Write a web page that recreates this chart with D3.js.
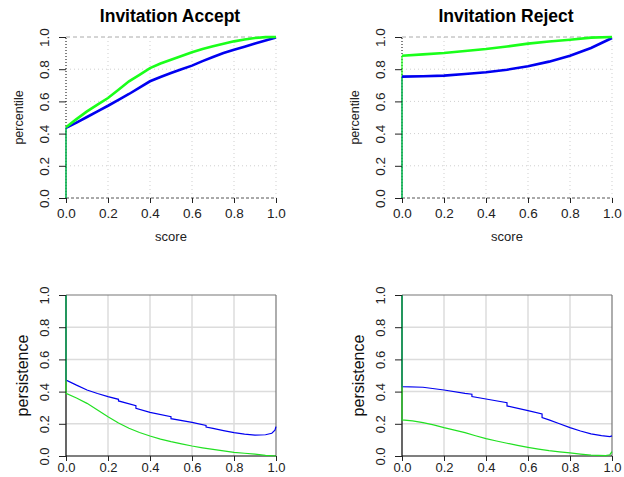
<!DOCTYPE html>
<html>
<head>
<meta charset="utf-8">
<script src="https://cdn.jsdelivr.net/npm/d3@7"></script>
<style>
  body { margin: 0; background: #fff; }
  svg { display: block; font-family: "Liberation Sans", Arial, Helvetica, sans-serif; }
</style>
</head>
<body>
<div id="chart"></div>
<script>
// tick values shared by every panel
var tickValues = [0, 0.2, 0.4, 0.6, 0.8, 1.0];
var titles = ["Invitation Accept", "Invitation Reject"];

// percentile curves (top row) : [score, percentile]
var acceptGreen = [[0,0.44],[0.05,0.49],[0.1,0.538],[0.15,0.58],[0.2,0.621],[0.25,0.672],[0.3,0.725],[0.35,0.765],[0.4,0.807],[0.45,0.835],[0.5,0.859],[0.55,0.882],[0.6,0.905],[0.65,0.925],[0.7,0.942],[0.75,0.958],[0.8,0.973],[0.85,0.985],[0.9,0.994],[0.95,0.999],[1.0,1.0]];
var acceptBlue = [[0,0.435],[0.05,0.468],[0.1,0.503],[0.15,0.538],[0.2,0.573],[0.25,0.61],[0.3,0.646],[0.35,0.686],[0.4,0.725],[0.45,0.752],[0.5,0.776],[0.55,0.8],[0.6,0.822],[0.65,0.85],[0.7,0.876],[0.75,0.9],[0.8,0.921],[0.85,0.94],[0.9,0.959],[0.95,0.978],[1.0,0.997]];
var rejectGreen = [[0,0.884],[0.1,0.892],[0.2,0.901],[0.3,0.913],[0.4,0.925],[0.5,0.941],[0.6,0.959],[0.7,0.972],[0.8,0.983],[0.9,0.996],[1.0,1.0]];
var rejectBlue = [[0,0.754],[0.1,0.756],[0.2,0.76],[0.3,0.77],[0.4,0.781],[0.5,0.797],[0.6,0.818],[0.7,0.847],[0.8,0.884],[0.9,0.932],[0.95,0.963],[1.0,0.994]];

// persistence curves (bottom row) : [score, persistence]
var accPersGreen = [[0,1.0],[0,0.389],[0.05,0.36],[0.1,0.327],[0.15,0.285],[0.2,0.244],[0.25,0.205],[0.3,0.172],[0.35,0.146],[0.4,0.124],[0.45,0.105],[0.5,0.089],[0.55,0.075],[0.6,0.062],[0.65,0.051],[0.7,0.041],[0.75,0.032],[0.8,0.023],[0.85,0.017],[0.9,0.012],[0.95,0.004],[1.0,0.0]];
var accPersBlue = [[0,1.0],[0,0.472],[0.05,0.44],[0.1,0.41],[0.15,0.388],[0.2,0.369],[0.25,0.352],[0.25,0.342],[0.333,0.312],[0.333,0.296],[0.4,0.271],[0.5,0.244],[0.5,0.232],[0.6,0.209],[0.667,0.19],[0.667,0.18],[0.7,0.172],[0.75,0.158],[0.8,0.145],[0.85,0.136],[0.9,0.13],[0.95,0.132],[0.98,0.141],[0.995,0.16],[1.0,0.182]];
var rejPersGreen = [[0,1.0],[0,0.224],[0.05,0.218],[0.1,0.207],[0.15,0.193],[0.2,0.176],[0.25,0.161],[0.3,0.145],[0.35,0.126],[0.4,0.108],[0.45,0.093],[0.5,0.079],[0.55,0.066],[0.6,0.054],[0.65,0.043],[0.7,0.033],[0.75,0.026],[0.8,0.019],[0.85,0.012],[0.9,0.006],[0.97,0.002],[0.99,0.008],[1.0,0.027]];
var rejPersBlue = [[0,1.0],[0,0.431],[0.1,0.427],[0.2,0.41],[0.3,0.389],[0.333,0.384],[0.333,0.369],[0.4,0.354],[0.5,0.331],[0.5,0.311],[0.6,0.282],[0.667,0.261],[0.667,0.238],[0.7,0.224],[0.75,0.2],[0.8,0.176],[0.85,0.155],[0.9,0.137],[0.95,0.126],[0.99,0.12],[1.0,0.125]];

var W = 624, H = 477;
var svg = d3.select("#chart").append("svg")
    .attr("width", W)
    .attr("height", H);

var GREEN = "#1aff1a", BLUE = "#0000f0";

var panels = [
  {col: 0, row: 0, title: titles[0], green: acceptGreen, blue: acceptBlue},
  {col: 1, row: 0, title: titles[1], green: rejectGreen, blue: rejectBlue},
  {col: 0, row: 1, green: accPersGreen, blue: accPersBlue},
  {col: 1, row: 1, green: rejPersGreen, blue: rejPersBlue}
];

panels.forEach(function(p) {
  var left = p.col == 0 ? 66 : 402;
  var x = d3.scaleLinear().domain([0, 1]).range([left, left + 210]);
  var y = p.row == 0
      ? d3.scaleLinear().domain([0, 1]).range([198, 37])
      : d3.scaleLinear().domain([0, 1]).range([456, 295]);
  var g = svg.append("g");
  var x0 = x(0), x1 = x(1), y0 = y(0), y1 = y(1);

  if (p.row == 0) {
    // dotted grid
    tickValues.slice(1).forEach(function(t) {
      g.append("line").attr("x1", x(t)).attr("x2", x(t)).attr("y1", y0).attr("y2", y1)
        .attr("stroke", "#cfcfcf").attr("stroke-dasharray", "1,3");
      if (t < 1) g.append("line").attr("x1", x0).attr("x2", x1).attr("y1", y(t)).attr("y2", y(t))
        .attr("stroke", "#cfcfcf").attr("stroke-dasharray", "1,3");
    });
    g.append("line").attr("x1", x0).attr("x2", x1).attr("y1", y1).attr("y2", y1)
      .attr("stroke", "#aaa").attr("stroke-dasharray", "4,3");
    g.append("line").attr("x1", x0).attr("x2", x1).attr("y1", y0).attr("y2", y0)
      .attr("stroke", "#555").attr("stroke-dasharray", "3,2");
    g.append("line").attr("x1", x0).attr("x2", x0).attr("y1", y0).attr("y2", y1)
      .attr("stroke", "#000").attr("stroke-dasharray", "1,2");
  } else {
    // solid grid
    tickValues.slice(1, 5).forEach(function(t) {
      g.append("line").attr("x1", x(t)).attr("x2", x(t)).attr("y1", y0).attr("y2", y1)
        .attr("stroke", "#dcdcdc").attr("stroke-width", 1.5);
      g.append("line").attr("x1", x0).attr("x2", x1).attr("y1", y(t)).attr("y2", y(t))
        .attr("stroke", "#dcdcdc").attr("stroke-width", 1.5);
    });
    g.append("line").attr("x1", x0).attr("x2", x1).attr("y1", y1).attr("y2", y1)
      .attr("stroke", "#777").attr("stroke-width", 1.2);
    g.append("line").attr("x1", x1).attr("x2", x1).attr("y1", y0).attr("y2", y1)
      .attr("stroke", "#777").attr("stroke-width", 1.2);
    g.append("line").attr("x1", x0).attr("x2", x1).attr("y1", y0).attr("y2", y0)
      .attr("stroke", "#000").attr("stroke-width", 1.2);
    g.append("line").attr("x1", x0).attr("x2", x0).attr("y1", y0).attr("y2", y1)
      .attr("stroke", "#000").attr("stroke-width", 1.2);
  }

  // curves
  var line = d3.line()
      .x(function(d) { return x(d[0]); })
      .y(function(d) { return y(d[1]); });
  var greenCol = p.row == 0 ? GREEN : "#22e022";
  if (p.row == 0) {
    // thin jump from 0 up to the first value at score 0
    [[p.blue, BLUE], [p.green, greenCol]].forEach(function(s) {
      g.append("line")
        .attr("x1", x(s[0][0][0])).attr("x2", x(s[0][0][0]))
        .attr("y1", y(0)).attr("y2", y(s[0][0][1]))
        .attr("stroke", s[1]).attr("stroke-width", 1.2);
    });
  }
  var lw = p.row == 0 ? 2.6 : 1.2;
  g.append("path").datum(p.blue).attr("d", line)
    .attr("fill", "none").attr("stroke", BLUE).attr("stroke-width", lw);
  g.append("path").datum(p.green).attr("d", line)
    .attr("fill", "none").attr("stroke", greenCol).attr("stroke-width", lw);

  // axes
  var xAxis = g.append("g")
      .attr("transform", "translate(0," + y0 + ")")
      .call(d3.axisBottom(x).tickValues(tickValues).tickFormat(d3.format(".1f"))
        .tickSize(5).tickPadding(p.row == 0 ? 5 : 2));
  var yAxis = g.append("g")
      .attr("transform", "translate(" + x0 + ",0)")
      .call(d3.axisLeft(y).tickValues(tickValues).tickFormat(d3.format(".1f")).tickSize(7));
  [xAxis, yAxis].forEach(function(a) {
    a.select(".domain").remove();
    a.selectAll("line").attr("stroke", "#222");
    a.selectAll("text").attr("fill", "#222").style("font-size", p.row == 0 ? "13.5px" : "13px");
  });
  yAxis.selectAll("text")
    .attr("x", null).attr("dy", null)
    .attr("text-anchor", "middle")
    .attr("transform", "translate(-17,0) rotate(-90)");

  if (p.row == 0) {
    svg.append("text")
      .attr("x", (x0 + x1) / 2 - 1).attr("y", 22)
      .attr("text-anchor", "middle")
      .style("font-size", "17.5px").style("font-weight", "bold")
      .text(p.title);
    svg.append("text")
      .attr("x", (x0 + x1) / 2).attr("y", 241)
      .attr("text-anchor", "middle")
      .style("font-size", "13px").attr("fill", "#222")
      .text("score");
    svg.append("text")
      .attr("transform", "translate(" + (x0 - 43) + "," + ((y0 + y1) / 2) + ") rotate(-90)")
      .attr("text-anchor", "middle")
      .style("font-size", "12.5px").attr("fill", "#222")
      .text("percentile");
  } else {
    svg.append("text")
      .attr("transform", "translate(" + (x0 - 38) + "," + ((y0 + y1) / 2) + ") rotate(-90)")
      .attr("text-anchor", "middle")
      .style("font-size", "16px").attr("fill", "#111")
      .text("persistence");
  }
});
</script>
</body>
</html>
